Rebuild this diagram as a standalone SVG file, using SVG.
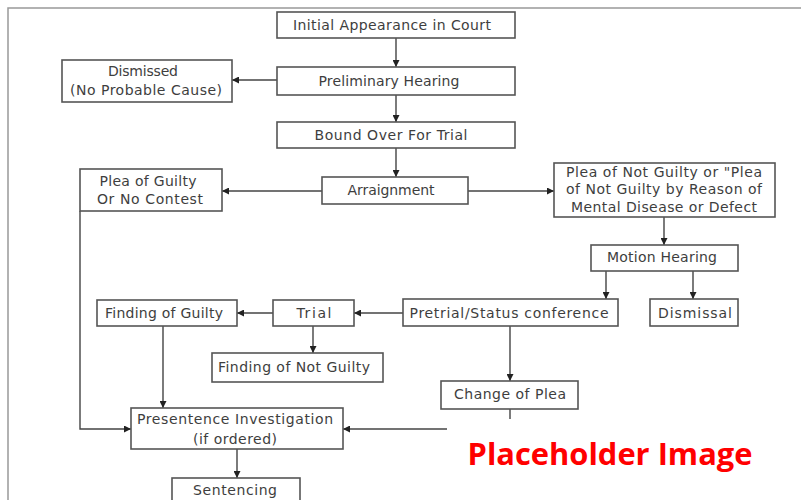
<svg xmlns="http://www.w3.org/2000/svg" width="801" height="500" viewBox="0 0 801 500">
<style>
.box{fill:#fff;stroke:#555;stroke-width:1.6}
.t{font-family:"DejaVu Sans",Verdana,sans-serif;font-size:14px;fill:#3e3e3e;text-anchor:middle}
.c{fill:none;stroke:#444;stroke-width:1.4}
</style>
<defs>
<marker id="ah" viewBox="0 0 10 10" refX="10" refY="5" markerWidth="7" markerHeight="7" orient="auto" markerUnits="userSpaceOnUse">
<path d="M0,0 L10,5 L0,10 z" fill="#222"/>
</marker>
</defs>
<rect width="801" height="500" fill="#fff"/>
<path d="M8,500 V8 H801" fill="none" stroke="#999" stroke-width="1.5"/>
<g id="connectors">
<line class="c" x1="396" y1="38" x2="396" y2="67" marker-end="url(#ah)"/>
<line class="c" x1="277" y1="80" x2="232" y2="80" marker-end="url(#ah)"/>
<line class="c" x1="396" y1="95" x2="396" y2="122" marker-end="url(#ah)"/>
<line class="c" x1="396" y1="148" x2="396" y2="177" marker-end="url(#ah)"/>
<line class="c" x1="322" y1="191" x2="222" y2="191" marker-end="url(#ah)"/>
<line class="c" x1="468" y1="191" x2="554" y2="191" marker-end="url(#ah)"/>
<line class="c" x1="664" y1="217" x2="664" y2="245" marker-end="url(#ah)"/>
<line class="c" x1="606" y1="271" x2="606" y2="299" marker-end="url(#ah)"/>
<line class="c" x1="693" y1="271" x2="693" y2="299" marker-end="url(#ah)"/>
<line class="c" x1="403" y1="313" x2="354" y2="313" marker-end="url(#ah)"/>
<line class="c" x1="273" y1="313" x2="237" y2="313" marker-end="url(#ah)"/>
<line class="c" x1="313" y1="326" x2="313" y2="353" marker-end="url(#ah)"/>
<line class="c" x1="163" y1="326" x2="163" y2="408" marker-end="url(#ah)"/>
<polyline class="c" points="80,211 80,429 131,429" marker-end="url(#ah)"/>
<line class="c" x1="510" y1="326" x2="510" y2="381" marker-end="url(#ah)"/>
<line class="c" x1="510" y1="409" x2="510" y2="425"/>
<line class="c" x1="460" y1="429" x2="343" y2="429" marker-end="url(#ah)"/>
<line class="c" x1="237" y1="449" x2="237" y2="478" marker-end="url(#ah)"/>
</g>
<g id="n-initial"><rect class="box" x="277" y="12" width="238" height="26"/><text class="t" x="392" y="30" textLength="198">Initial Appearance in Court</text></g>
<g id="n-dismissed"><rect class="box" x="62" y="60" width="170" height="42"/><text class="t" x="143" y="76" textLength="70">Dismissed</text><text class="t" x="146" y="95" textLength="152">(No Probable Cause)</text></g>
<g id="n-prelim"><rect class="box" x="277" y="67" width="238" height="28"/><text class="t" x="389" y="86" textLength="141">Preliminary Hearing</text></g>
<g id="n-bound"><rect class="box" x="277" y="122" width="238" height="26"/><text class="t" x="391" y="140" textLength="153">Bound Over For Trial</text></g>
<g id="n-arraign"><rect class="box" x="322" y="177" width="146" height="27"/><text class="t" x="391" y="195" textLength="87">Arraignment</text></g>
<g id="n-pleaguilty"><rect class="box" x="80" y="169" width="142" height="42"/><text class="t" x="148" y="186" textLength="97">Plea of Guilty</text><text class="t" x="150" y="204" textLength="106">Or No Contest</text></g>
<g id="n-pleanotguilty"><rect class="box" x="554" y="163" width="221" height="54"/><text class="t" x="664" y="177" textLength="196">Plea of Not Guilty or "Plea</text><text class="t" x="664" y="194" textLength="196">of Not Guilty by Reason of</text><text class="t" x="664" y="212" textLength="186">Mental Disease or Defect</text></g>
<g id="n-motion"><rect class="box" x="591" y="245" width="147" height="26"/><text class="t" x="662" y="262" textLength="110">Motion Hearing</text></g>
<g id="n-pretrial"><rect class="box" x="403" y="299" width="215" height="27"/><text class="t" x="509" y="318" textLength="199">Pretrial/Status conference</text></g>
<g id="n-dismissal"><rect class="box" x="650" y="299" width="88" height="27"/><text class="t" x="695" y="318" textLength="74">Dismissal</text></g>
<g id="n-trial"><rect class="box" x="273" y="300" width="81" height="26"/><text class="t" x="314" y="318" textLength="35">Trial</text></g>
<g id="n-findguilty"><rect class="box" x="97" y="300" width="140" height="26"/><text class="t" x="164" y="318" textLength="118">Finding of Guilty</text></g>
<g id="n-findnotguilty"><rect class="box" x="212" y="353" width="171" height="29"/><text class="t" x="294" y="372" textLength="152">Finding of Not Guilty</text></g>
<g id="n-change"><rect class="box" x="441" y="381" width="137" height="28"/><text class="t" x="510" y="399" textLength="112">Change of Plea</text></g>
<g id="n-presentence"><rect class="box" x="131" y="408" width="212" height="41"/><text class="t" x="235" y="424" textLength="196">Presentence Investigation</text><text class="t" x="235" y="444" textLength="84">(if ordered)</text></g>
<g id="n-sentencing"><rect class="box" x="172" y="478" width="128" height="30"/><text class="t" x="235" y="495" textLength="84">Sentencing</text></g>
<rect x="447" y="419" width="354" height="81" fill="#fff"/>
<text x="610" y="465" font-family="'Open Sans',sans-serif" font-weight="bold" font-size="30" fill="#ff0000" text-anchor="middle" textLength="285" lengthAdjust="spacingAndGlyphs">Placeholder Image</text>
</svg>
